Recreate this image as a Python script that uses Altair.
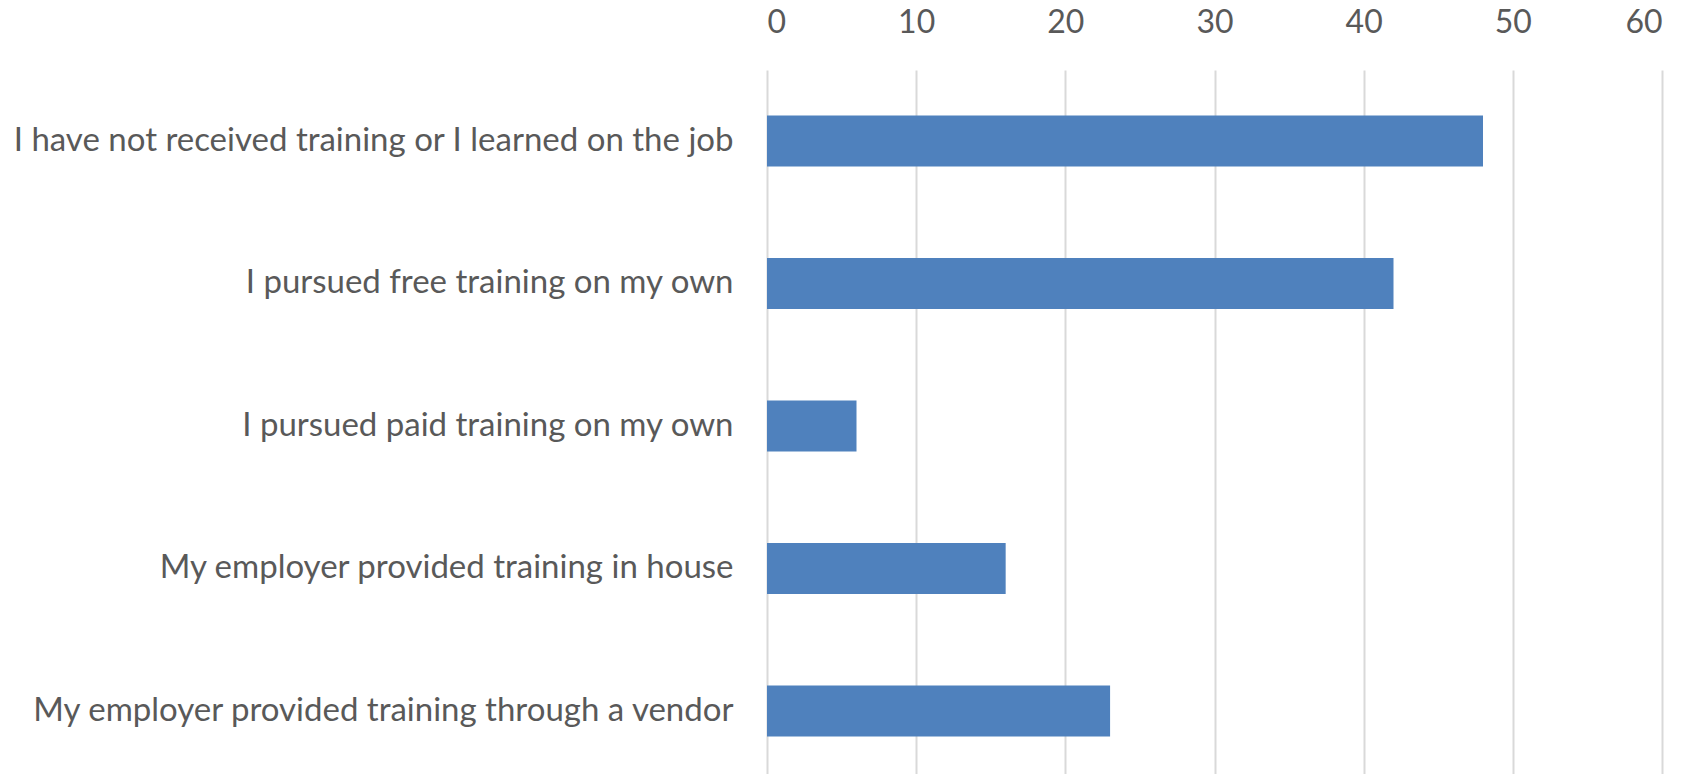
import altair as alt
import pandas as pd

categories = [
    "I have not received training or I learned on the job",
    "I pursued free training on my own",
    "I pursued paid training on my own",
    "My employer provided training in house",
    "My employer provided training through a vendor",
]
values = [48, 42, 6, 16, 23]
x_ticks = [0, 10, 20, 30, 40, 50, 60]

df = pd.DataFrame({"category": categories, "value": values})

FONT = "Lato"

chart = (
    alt.Chart(df)
    .mark_bar(color="#4F81BD")
    .encode(
        x=alt.X(
            "value:Q",
            scale=alt.Scale(domain=[0, 60], nice=False),
            axis=alt.Axis(
                orient="top",
                values=x_ticks,
                title=None,
                ticks=False,
                domain=False,
                labelPadding=31,
                labelFontSize=32,
                labelColor="#595959",
                labelFont=FONT,
                grid=True,
                gridColor="#D9D9D9",
                gridWidth=2,
            ),
        ),
        y=alt.Y(
            "category:N",
            sort=categories,
            scale=alt.Scale(paddingInner=0.642, paddingOuter=0.291, align=0.548),
            axis=alt.Axis(
                title=None,
                ticks=False,
                domain=False,
                labelPadding=34,
                labelFontSize=33,
                labelColor="#595959",
                labelFont=FONT,
                labelLimit=0,
            ),
        ),
    )
    .properties(
        width=895,
        height=704,
        autosize=alt.AutoSizeParams(type="none"),
        padding={"left": 759, "top": 62, "right": 20, "bottom": 0},
    )
    .configure_view(stroke=None)
)

chart.save("out.html", embed_options={"renderer": "svg", "actions": False})
